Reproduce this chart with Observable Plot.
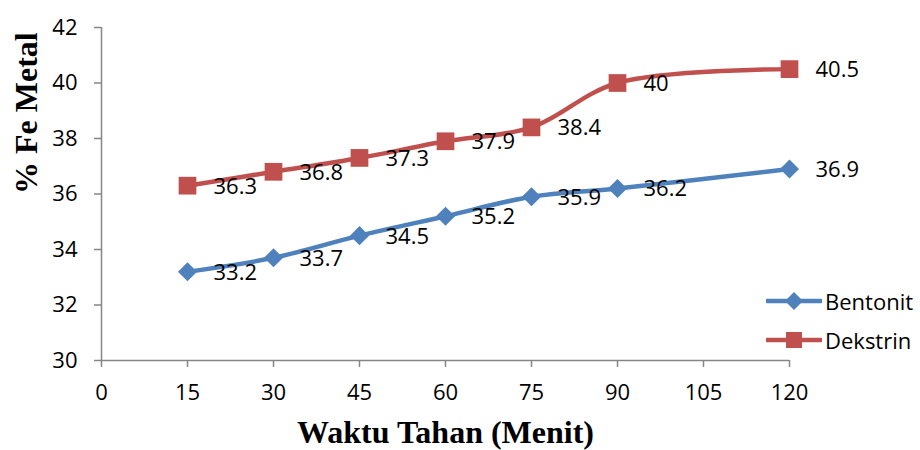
<!DOCTYPE html>
<html>
<head>
<meta charset="utf-8">
<script src="https://cdn.jsdelivr.net/npm/d3@7"></script>
<script src="https://cdn.jsdelivr.net/npm/@observablehq/plot@0.6"></script>
<style>
  html, body { margin: 0; padding: 0; background: #fff; }
  #wrap { position: relative; width: 920px; height: 450px; font-family: "Open Sans", sans-serif; }
  #legend { position: absolute; left: 766px; top: 281px; }
  .item { display: flex; align-items: center; height: 39px; font-size: 22px; color: #000; }
  .item svg { margin-right: 3px; }
</style>
</head>
<body>
<div id="wrap"></div>
<script>
// Holding time (minutes) and metallic Fe content (%) per binder
const minutes = [15, 30, 45, 60, 75, 90, 120];
const bentonit = [33.2, 33.7, 34.5, 35.2, 35.9, 36.2, 36.9];
const dekstrin = [36.3, 36.8, 37.3, 37.9, 38.4, 40, 40.5];
const xTicks = [0, 15, 30, 45, 60, 75, 90, 105, 120];
const yTicks = [30, 32, 34, 36, 38, 40, 42];
const seriesNames = ["Bentonit", "Dekstrin"];
const seriesColors = ["#4F81BD", "#C0504D"];

const rows = [
  ...minutes.map((m, i) => ({menit: m, fe: bentonit[i], seri: seriesNames[0]})),
  ...minutes.map((m, i) => ({menit: m, fe: dekstrin[i], seri: seriesNames[1]}))
];

const font = "'Open Sans', sans-serif";
const serif = "'Liberation Serif', 'Times New Roman', serif";
const axisGray = "#868686";

const chart = Plot.plot({
  width: 920,
  height: 450,
  marginLeft: 101,
  marginRight: 131,
  marginTop: 27,
  marginBottom: 90,
  style: {fontFamily: font, background: "white", color: "black"},
  x: {domain: [0, 120], axis: null},
  y: {domain: [30, 42], axis: null},
  color: {domain: seriesNames, range: seriesColors},
  symbol: {domain: seriesNames, range: ["diamond2", "square"]},
  marks: [
    Plot.axisY(yTicks, {tickSize: 7, tickPadding: 17, stroke: axisGray, strokeWidth: 1.5, fill: "black", fontSize: 22, label: null}),
    Plot.axisX(xTicks, {tickSize: 7, tickPadding: 17, stroke: axisGray, strokeWidth: 1.5, fill: "black", fontSize: 22, label: null}),
    Plot.ruleX([0], {stroke: axisGray, strokeWidth: 1.5}),
    Plot.ruleY([30], {stroke: axisGray, strokeWidth: 1.5}),
    Plot.line(rows, {x: "menit", y: "fe", z: "seri", stroke: "seri", strokeWidth: 4.5, curve: "catmull-rom"}),
    Plot.dot(rows.filter(d => d.seri === seriesNames[0]), {x: "menit", y: "fe", symbol: "seri", fill: "seri", r: 8.6}),
    Plot.dot(rows.filter(d => d.seri === seriesNames[1]), {x: "menit", y: "fe", symbol: "seri", fill: "seri", r: 10}),
    Plot.text(rows, {x: "menit", y: "fe", text: d => String(d.fe), textAnchor: "start", dx: 26, dy: 1, fontSize: 22, fill: "black"}),
    Plot.text(["Waktu Tahan (Menit)"], {frameAnchor: "bottom", dy: 82, fontSize: 32, fontWeight: "bold", fontFamily: serif, fill: "black"}),
    Plot.text(["% Fe Metal"], {frameAnchor: "left", dx: -75, rotate: -90, fontSize: 32, fontWeight: "bold", fontFamily: serif, fill: "black"})
  ]
});

const wrap = document.getElementById("wrap");
wrap.appendChild(chart);

// Legend on the right, built from the same series names and colours
const legend = document.createElement("div");
legend.id = "legend";
seriesNames.forEach((name, i) => {
  const item = document.createElement("div");
  item.className = "item";
  const sym = i === 0
    ? `<path d="M28,1 L37,10 L28,19 L19,10 Z" fill="${seriesColors[i]}"/>`
    : `<rect x="20" y="2" width="16" height="16" fill="${seriesColors[i]}"/>`;
  item.innerHTML = `<svg width="56" height="20"><line x1="1" x2="55" y1="10" y2="10" stroke="${seriesColors[i]}" stroke-width="4.5" stroke-linecap="round"/>${sym}</svg><span>${name}</span>`;
  legend.appendChild(item);
});
wrap.appendChild(legend);
</script>
</body>
</html>
